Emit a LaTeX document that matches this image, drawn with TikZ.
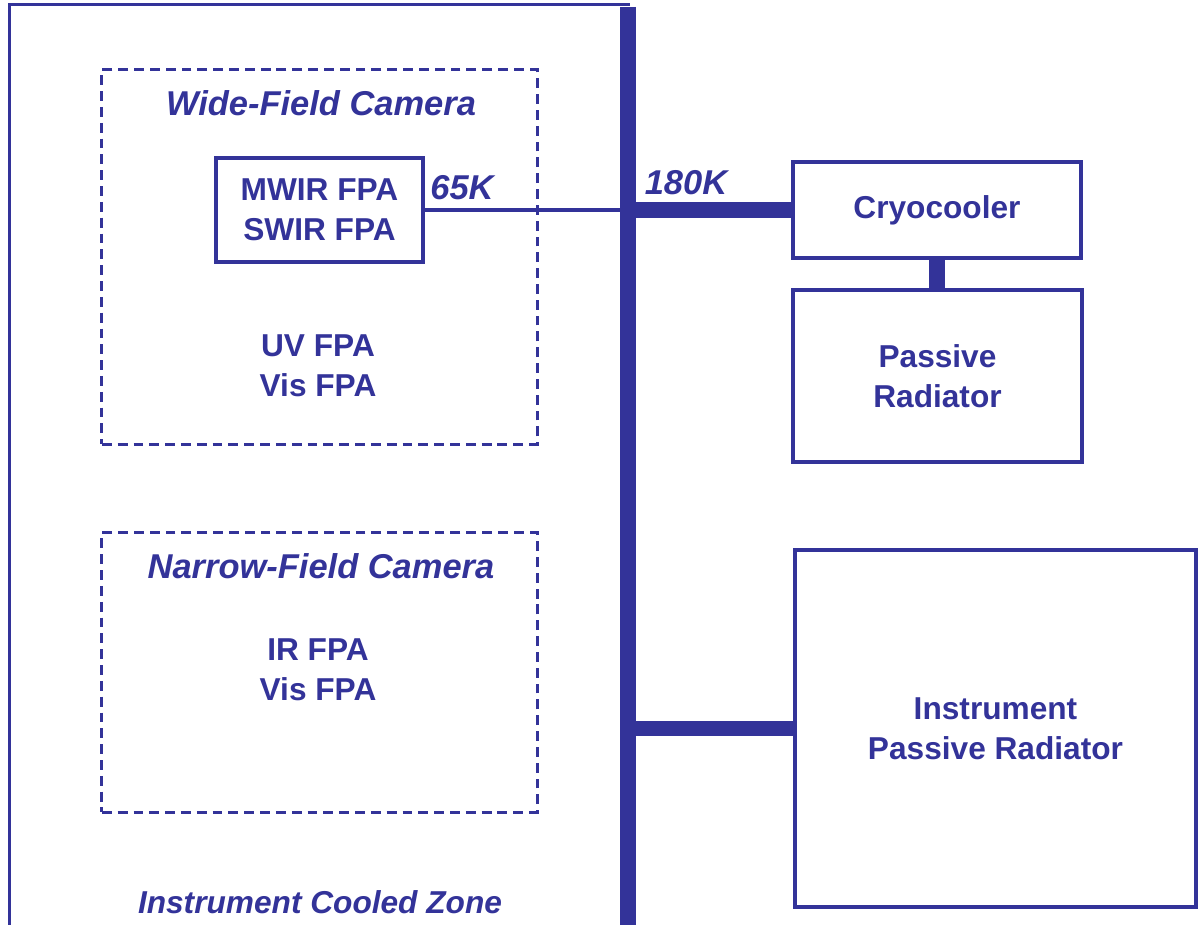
\documentclass[tikz,border=0pt]{standalone}
\usepackage{fontspec}
\setmainfont{Liberation Sans}
\definecolor{zoneblue}{RGB}{51,51,153}
\begin{document}
\begin{tikzpicture}[x=0.01cm,y=-0.01cm,
  every node/.style={text=zoneblue,font=\fontsize{9}{11.4}\selectfont\bfseries,align=center},
  unit/.style={draw=zoneblue,line width=1.2pt,inner sep=0pt},
  camera/.style={draw=zoneblue,line width=0.85pt,dash pattern=on 2.8pt off 1.7pt,inner sep=0pt},
  tag/.style={font=\fontsize{9.8}{12}\selectfont\bfseries\itshape},
  bus/.style={draw=zoneblue,line width=4.3pt}]
\useasboundingbox (0,0) rectangle (1199,925);

% cooled zone and thermal bus
\draw[zoneblue,line width=0.85pt] (630,5)--(9.5,5)--(9.5,925);
\coordinate (bustop) at (628,7);
\coordinate (busbot) at (628,925);
\draw[bus] (bustop)--(busbot);

% cameras
\node[camera,minimum width=4.35cm,minimum height=3.74cm] (wfc) at (319.5,257) {};
\node[tag] (wfctitle) at (321,103) {Wide-Field Camera};
\node[unit,minimum width=2.07cm,minimum height=1.04cm] (ir) at (319.5,210) {MWIR FPA\\SWIR FPA};
\node (uvvis) at (318,366) {UV FPA\\Vis FPA};
\node[camera,minimum width=4.35cm,minimum height=2.79cm] (nfc) at (319.5,672.5) {};
\node[tag] (nfctitle) at (321,566) {Narrow-Field Camera};
\node (irvis) at (318,670) {IR FPA\\Vis FPA};
\node[tag,font=\fontsize{9}{11}\selectfont\bfseries\itshape] (zone) at (320,902) {Instrument Cooled Zone};

% radiators
\node[unit,minimum width=2.88cm,minimum height=0.96cm] (cryo) at (937,210) {Cryocooler};
\node[unit,minimum width=2.89cm,minimum height=1.72cm] (prad) at (937.5,376) {Passive\\Radiator};
\node[unit,minimum width=4.01cm,minimum height=3.57cm] (ipr) at (995.5,728.5) {Instrument\\Passive Radiator};

% links
\draw[zoneblue,line width=1.2pt] (ir.east)--(ir.east -| bustop);
\node[tag] (t65) at (462,188) {65K};
\node[tag] (t180) at (686,183) {180K};
\foreach \unitname in {cryo,ipr}
{
    \draw[bus] (\unitname.west -| bustop)--(\unitname.west);
}
\draw[bus] (cryo.south)--(cryo.south |- prad.north);
\end{tikzpicture}
\end{document}
